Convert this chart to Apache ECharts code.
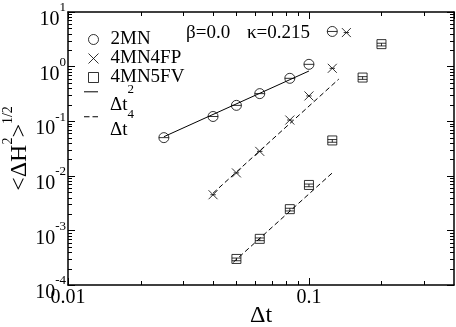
<!DOCTYPE html>
<html>
<head>
<meta charset="utf-8">
<script src="https://cdn.jsdelivr.net/npm/echarts@6/dist/echarts.min.js"></script>
<style>
  html, body { margin: 0; padding: 0; background: #fff; }
  #chart { width: 456px; height: 327px; }
</style>
</head>
<body>
<div id="chart"></div>
<script>
// data
var dt2MN = [0.025, 0.04, 0.05, 0.0625, 0.0833, 0.1, 0.125];
var h2MN = [0.05, 0.122, 0.195, 0.32, 0.61, 1.1, 4.4];
var dt4FP = [0.04, 0.05, 0.0625, 0.0833, 0.1, 0.125, 0.143];
var h4FP = [0.0045, 0.0113, 0.028, 0.105, 0.29, 0.93, 4.2];
var dt5FV = [0.05, 0.0625, 0.0833, 0.1, 0.125, 0.167, 0.2];
var h5FV = [0.0003, 0.0007, 0.00245, 0.0068, 0.0444, 0.63, 2.58];

// guide lines (end points)
var fitDt2 = [[0.025, 0.052], [0.1, 0.83]];
var fitDt4a = [[0.04, 0.0048], [0.133, 0.59]];
var fitDt4b = [[0.0485, 0.00026], [0.125, 0.0113]];

// minor tick positions
var xMinorTicks = [0.02, 0.03, 0.04, 0.05, 0.06, 0.07, 0.08, 0.09, 0.2, 0.3];
var yDecades = [-4, -3, -2, -1, 0];
var tickMultiples = [2, 3, 4, 5, 6, 7, 8, 9];

var serif = "'Liberation Serif', 'DejaVu Serif', serif";

function pairs(xs, ys) {
  return xs.map(function (x, i) { return [x, ys[i]]; });
}

var yMinorTicks = [];
yDecades.forEach(function (d) {
  tickMultiples.forEach(function (m) { yMinorTicks.push(m * Math.pow(10, d)); });
});

function minorTicks(values, dir) {
  return {
    type: 'custom',
    silent: true,
    clip: false,
    z: 5,
    data: values.map(function (v) { return dir === 'x' ? [v, 1] : [0.1, v]; }),
    renderItem: function (params, api) {
      var cs = params.coordSys;
      var p = api.coord([api.value(0), api.value(1)]);
      var st = { stroke: '#000', lineWidth: 1 };
      if (dir === 'x') {
        var x = Math.round(p[0]) + 0.5;
        var yb = cs.y + cs.height;
        return { type: 'group', children: [
          { type: 'line', shape: { x1: x, y1: yb, x2: x, y2: yb - 4 }, style: st },
          { type: 'line', shape: { x1: x, y1: cs.y, x2: x, y2: cs.y + 4 }, style: st }
        ] };
      }
      var y = Math.round(p[1]) + 0.5;
      var xr = cs.x + cs.width;
      return { type: 'group', children: [
        { type: 'line', shape: { x1: cs.x, y1: y, x2: cs.x + 4, y2: y }, style: st },
        { type: 'line', shape: { x1: xr, y1: y, x2: xr - 4, y2: y }, style: st }
      ] };
    }
  };
}

var markStyle = { color: 'rgba(0,0,0,0)', borderColor: '#000', borderWidth: 1 };
var iconStyle = { color: 'rgba(0,0,0,0)', borderColor: '#000', borderWidth: 1 };
var axisLine = { lineStyle: { color: '#000', width: 1.5 } };
var axisTick = { inside: true, length: 7, lineStyle: { color: '#000' } };

// legend rows for the guide lines: Δt with a raised exponent
function lineLegend(name, top, icon, sup) {
  return {
    left: 84, top: top, orient: 'vertical', padding: 0,
    itemWidth: 14, itemHeight: 1,
    formatter: '{a|Δt}{s|' + sup + '}',
    textStyle: {
      padding: [0, 0, 0, 7], color: '#000',
      rich: {
        a: { fontSize: 19, lineHeight: 45, verticalAlign: 'bottom', fontFamily: serif, color: '#000' },
        s: { fontSize: 13, padding: [0, 0, 5, 0], fontFamily: serif, color: '#000' }
      }
    },
    data: [{ name: name, icon: icon, itemStyle: { color: '#000', borderWidth: 0 } }]
  };
}

var chart = echarts.init(document.getElementById('chart'));

chart.setOption({
  animation: false,
  backgroundColor: '#fff',
  grid: { left: 68, right: 2, top: 12, bottom: 42, outerBoundsMode: 'none' },
  xAxis: [{
    type: 'log', logBase: 10, min: 0.01, max: 0.4,
    axisLine: axisLine, axisTick: axisTick,
    axisLabel: { showMaxLabel: false, margin: 3, color: '#000', fontSize: 20, fontFamily: serif },
    splitLine: { show: false },
    name: 'Δt', nameLocation: 'middle', nameGap: 19, nameMoveOverlap: false,
    nameTextStyle: { color: '#000', fontSize: 24, fontFamily: serif }
  }, {
    type: 'log', logBase: 10, min: 0.01, max: 0.4, position: 'top',
    axisLine: axisLine, axisTick: axisTick,
    axisLabel: { show: false },
    splitLine: { show: false }
  }],
  yAxis: [{
    type: 'log', logBase: 10, min: 0.0001, max: 10,
    axisLine: axisLine, axisTick: axisTick,
    axisLabel: {
      margin: 2,
      padding: [16, 0, 0, 0],
      formatter: function (v) { return '{b|10}{s|' + Math.round(Math.log10(v)) + '}'; },
      rich: {
        b: { fontSize: 20, lineHeight: 37, fontFamily: serif, color: '#000' },
        s: { fontSize: 13, verticalAlign: 'top', fontFamily: serif, color: '#000' }
      }
    },
    splitLine: { show: false },
    name: '{a|<ΔH}{s|2}{a|>}{s|1/2}', nameLocation: 'middle', nameGap: 30, nameMoveOverlap: false,
    nameTextStyle: {
      rich: {
        a: { fontSize: 24, lineHeight: 37, fontFamily: serif, color: '#000' },
        s: { fontSize: 14, verticalAlign: 'top', fontFamily: serif, color: '#000' }
      }
    }
  }, {
    type: 'log', logBase: 10, min: 0.0001, max: 10, position: 'right',
    axisLine: axisLine, axisTick: axisTick,
    axisLabel: { show: false },
    splitLine: { show: false }
  }],
  legend: [{
    left: 88, top: 30, orient: 'vertical', padding: 0, itemGap: 0,
    itemWidth: 10, itemHeight: 10,
    textStyle: { fontSize: 19, lineHeight: 16, fontFamily: serif, color: '#000', padding: [0, 0, 0, 7] },
    data: [
      { name: '2MN', icon: 'circle', itemStyle: iconStyle },
      { name: '4MN4FP', icon: 'path://M0,0L10,10M10,0L0,10', itemStyle: iconStyle },
      { name: '4MN5FV', icon: 'rect', itemStyle: iconStyle }
    ]
  },
    lineLegend('dt2', 82.8, 'rect', 2),
    lineLegend('dt4', 107.8, 'path://M0,0h5.5v1h-5.5zM8.5,0h5.5v1h-5.5z', 4)
  ],
  graphic: [
    { type: 'text', left: 186, top: 24, style: { text: 'β=0.0', fontSize: 19, fontFamily: serif, fill: '#000' } },
    { type: 'text', left: 247, top: 24, style: { text: 'κ=0.215', fontSize: 19, fontFamily: serif, fill: '#000' } }
  ],
  series: [
    minorTicks(xMinorTicks, 'x'),
    minorTicks(yMinorTicks, 'y'),
    {
      name: 'dt2', type: 'line', data: fitDt2, symbol: 'none',
      lineStyle: { color: '#000', width: 1 }, itemStyle: { color: '#000' }
    },
    {
      name: 'dt4', type: 'line', data: fitDt4a, symbol: 'none',
      lineStyle: { color: '#000', width: 1, type: [5, 3] }, itemStyle: { color: '#000' }
    },
    {
      name: 'dt4', type: 'line', data: fitDt4b, symbol: 'none',
      lineStyle: { color: '#000', width: 1, type: [5, 3] }, itemStyle: { color: '#000' }
    },
    {
      name: '2MN', type: 'scatter', data: pairs(dt2MN, h2MN), symbolSize: 10,
      symbol: 'path://M0,5A5,5,0,1,1,10,5A5,5,0,1,1,0,5ZM0,5L10,5',
      itemStyle: markStyle
    },
    {
      name: '4MN4FP', type: 'scatter', data: pairs(dt4FP, h4FP), symbolSize: 9,
      symbol: 'path://M0,0L10,10M10,0L0,10M2,5L8,5',
      itemStyle: markStyle
    },
    {
      name: '4MN5FV', type: 'scatter', data: pairs(dt5FV, h5FV), symbolSize: 9,
      symbol: 'path://M0,0L10,0L10,10L0,10ZM0,4L10,4M0,7L10,7M5,4L5,7',
      itemStyle: markStyle
    }
  ]
});
</script>
</body>
</html>
